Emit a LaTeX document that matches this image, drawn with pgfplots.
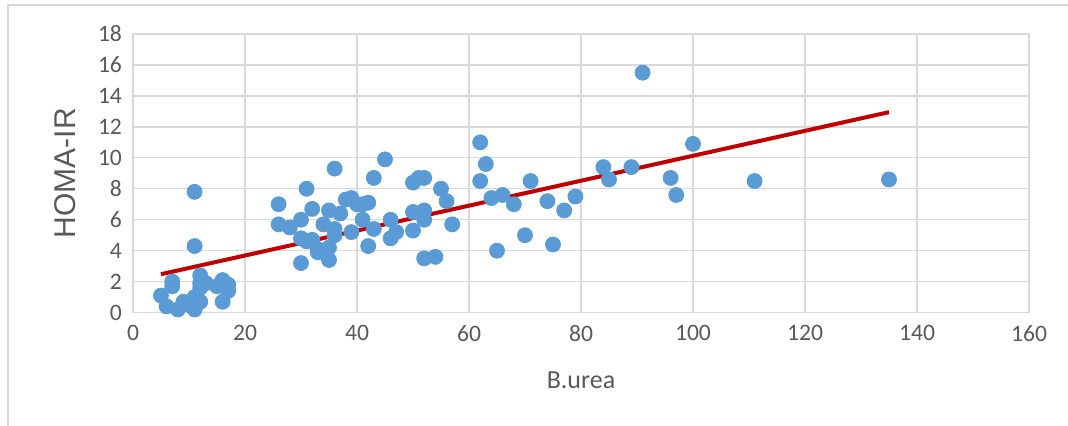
\documentclass[border=0pt]{standalone}
\usepackage{fontspec}
\setmainfont{Carlito}
\newfontfamily\arialfont{Liberation Sans}
\usepackage{pgfplots}
\pgfplotsset{compat=1.18}
\definecolor{ptblue}{HTML}{5B9BD5}
\definecolor{trendred}{HTML}{C00000}
\definecolor{gridgray}{HTML}{D9D9D9}
\definecolor{txtgray}{HTML}{595959}
\begin{document}
\begin{tikzpicture}
\begin{axis}[
  name=ax,
  scale only axis,
  width=448pt, height=139.3pt,
  xmin=0, xmax=160, ymin=0, ymax=18,
  xtick={0,20,...,160}, ytick={0,2,...,18},
  grid=major,
  major grid style={gridgray, line width=0.65pt},
  axis line style={gridgray, line width=0.65pt},
  major tick length=0pt,
  tick style={draw=none},
  /pgf/number format/assume math mode=true,
  ticklabel style={font=\fontsize{11.8}{13}\selectfont, text=txtgray},
  xticklabel style={yshift=-3pt},
  yticklabel style={xshift=-2pt},
  xlabel={B.urea},
  ylabel={\arialfont HOMA-IR},
  xlabel style={font=\fontsize{13}{15}\selectfont, text=txtgray, yshift=-8pt},
  ylabel style={font=\fontsize{15}{17}\selectfont, text=txtgray, yshift=4pt},
  clip=false,
]
\addplot[only marks, mark=*, mark size=3.75pt, mark options={fill=ptblue, draw=ptblue}] coordinates {
(5,1.1)(6,0.4)(7,2.0)(7,1.7)(8,0.2)(9,0.7)(10,0.5)(11,7.8)(11,4.3)(11,0.2)(11,1.0)
(12,2.4)(12,1.9)(12,1.6)(12,0.7)(13,1.9)(15,1.7)(16,2.1)(16,0.7)(17,1.8)(17,1.4)
(26,7.0)(26,5.7)(28,5.5)(30,6.0)(30,4.8)(30,3.2)(31,8.0)(31,4.6)(32,6.7)(32,4.7)
(33,3.9)(33,4.1)(34,5.7)(35,4.2)(35,6.6)(35,3.4)(36,9.3)(36,5.4)(36,5.0)(37,6.4)
(38,7.3)(39,7.4)(39,5.2)(40,7.0)(41,7.0)(41,6.0)(42,7.1)(42,4.3)(43,8.7)(43,5.4)
(45,9.9)(46,6.0)(46,4.8)(47,5.2)(50,8.4)(51,8.7)(52,8.7)(50,6.5)(50,5.3)(52,6.6)
(52,6.0)(52,3.5)(54,3.6)(55,8.0)(56,7.2)(57,5.7)
(62,11.0)(63,9.6)(62,8.5)(64,7.4)(65,4.0)(66,7.6)(68,7.0)(70,5.0)(71,8.5)(74,7.2)
(75,4.4)(77,6.6)(79,7.5)(84,9.4)(85,8.6)(89,9.4)(91,15.5)(96,8.7)(97,7.6)(100,10.9)
(111,8.5)(135,8.6)
};
\addplot[trendred, line width=2pt] coordinates {(5,2.48)(135,12.95)};
\end{axis}
\pgfresetboundingbox
\path ([xshift=-66.5pt, yshift=-56.7pt]ax.south west) coordinate (bl)
      ([xshift=19.5pt, yshift=17pt]ax.north east) coordinate (tr);
\useasboundingbox (bl) rectangle (tr);
\draw[gridgray, line width=0.6pt] ([xshift=4pt, yshift=-1pt]bl) -- ([xshift=4pt, yshift=-2.5pt]bl |- tr) -- ([yshift=-2.5pt]tr);
\end{tikzpicture}
\end{document}
